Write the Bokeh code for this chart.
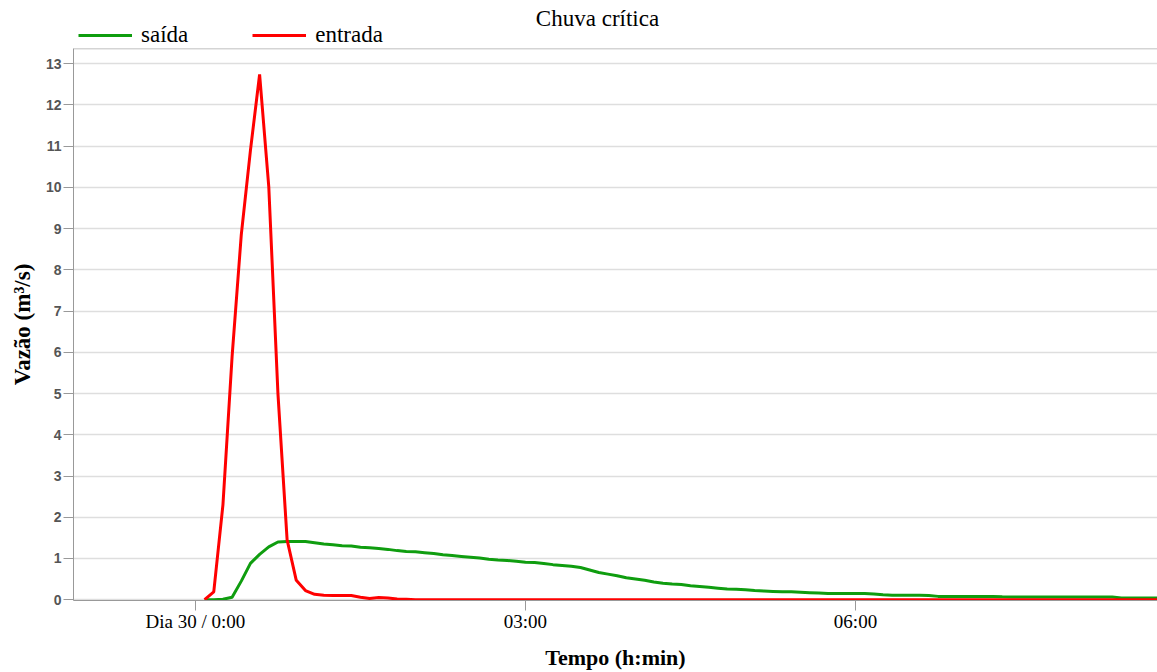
from bokeh.plotting import figure
from bokeh.layouts import column
from bokeh.models import FixedTicker, Span, Legend, LegendItem, Range1d, ColumnDataSource, Label
from bokeh.embed import file_html
from bokeh.resources import INLINE

# ---- data (time in minutes after Dia 30 / 0:00, 5-min steps) ----
minutes = list(range(5, 530, 5))

entrada = [0.0, 0.19, 2.3, 5.9, 8.85, 10.9, 12.74, 10.02, 5.0, 1.45,
           0.47, 0.22, 0.13, 0.11, 0.10, 0.10, 0.10, 0.06, 0.03, 0.05,
           0.04, 0.015, 0.01] + [0.0] * 82

saida = [0.0, 0.0, 0.01, 0.06, 0.45, 0.88, 1.10, 1.28, 1.40, 1.41,
         1.41, 1.41, 1.38, 1.35, 1.33, 1.31, 1.30, 1.27, 1.26, 1.24,
         1.22, 1.19, 1.17, 1.16, 1.14, 1.12, 1.09, 1.07, 1.05, 1.03,
         1.01, 0.98, 0.96, 0.95, 0.93, 0.91, 0.90, 0.88, 0.85, 0.83,
         0.81, 0.78, 0.72, 0.66, 0.62, 0.58, 0.53, 0.50, 0.47, 0.43,
         0.40, 0.38, 0.37, 0.34, 0.32, 0.30, 0.28, 0.26, 0.25, 0.24,
         0.22, 0.21, 0.20, 0.19, 0.19, 0.18, 0.17, 0.16, 0.15, 0.15,
         0.15, 0.15, 0.15, 0.14, 0.12, 0.11, 0.11, 0.11, 0.11, 0.10,
         0.08, 0.08, 0.08, 0.08, 0.08, 0.08, 0.08, 0.07, 0.065, 0.065,
         0.065, 0.065, 0.065, 0.065, 0.065, 0.065, 0.065, 0.065, 0.065, 0.065,
         0.04, 0.04, 0.04, 0.04, 0.04]

x_tick_values = [0, 180, 360]
x_tick_labels = ["Dia 30 / 0:00", "03:00", "06:00"]
y_tick_values = list(range(0, 14))

series_keys = ["saida", "entrada"]
series_names = ["saída", "entrada"]
series_colors = ["#0f9d0f", "#ff0000"]

title_text = "Chuva crítica"
x_title = "Tempo (h:min)"
y_title = "Vazão (m³/s)"

source = ColumnDataSource(dict(t=minutes, entrada=entrada, saida=saida))

X0, X1 = -66.5, 524.7
Y0, Y1 = -0.02, 13.37

W = 1157
HEAD_H = 47
LEFT = 73

# ---------------- header: title + legend ----------------
head = figure(width=W, height=HEAD_H, output_backend="svg", toolbar_location=None,
              x_range=Range1d(0, W), y_range=Range1d(0, HEAD_H),
              x_axis_location=None, y_axis_location=None,
              min_border_left=0, min_border_right=0, min_border_top=0,
              min_border_bottom=0, title=None)
head.outline_line_color = None
head.xgrid.visible = False
head.ygrid.visible = False
head.background_fill_color = "white"
head.border_fill_color = "white"

# hidden proxy renderers: only their style is used for the legend glyphs
proxies = [head.line("t", k, source=source, line_color=c, line_width=3, visible=False)
           for k, c in zip(series_keys, series_colors)]
legend = Legend(items=[LegendItem(label=n, renderers=[pr]) for n, pr in zip(series_names, proxies)],
                orientation="horizontal", location=(5, -1),
                glyph_width=54, glyph_height=20, label_standoff=9, spacing=64,
                padding=0, margin=0, border_line_color=None,
                background_fill_alpha=0, inactive_fill_alpha=0,
                label_text_font="Liberation Serif", label_text_font_size="23px",
                label_text_color="black")
head.add_layout(legend, "center")
head.add_layout(Label(x=597 - LEFT, y=HEAD_H - 18, x_units="screen", y_units="screen",
                      text=title_text, text_align="center", text_baseline="middle",
                      text_font="Liberation Serif", text_font_size="23px",
                      text_color="black"))

# ---------------- main chart ----------------
p = figure(width=W, height=672 - HEAD_H, output_backend="svg", toolbar_location=None,
           x_range=Range1d(X0, X1), y_range=Range1d(Y0, Y1), title=None,
           min_border_left=LEFT, min_border_right=0, min_border_top=1,
           min_border_bottom=72)
p.outline_line_color = None
p.background_fill_color = "white"
p.border_fill_color = "white"

p.xgrid.visible = False
p.ygrid.ticker = FixedTicker(ticks=y_tick_values)
p.ygrid.grid_line_color = "#dedede"
p.ygrid.grid_line_width = 1.3

xa = p.xaxis[0]
xa.ticker = FixedTicker(ticks=x_tick_values)
xa.major_label_overrides = {v: l for v, l in zip(x_tick_values, x_tick_labels)}
xa.major_tick_out = 10
xa.major_tick_in = 0
xa.minor_tick_line_color = None
xa.axis_line_color = "#999999"
xa.major_tick_line_color = "#999999"
xa.major_label_text_font = "Liberation Serif"
xa.major_label_text_font_size = "19px"
xa.major_label_text_color = "black"
xa.major_label_standoff = 0
xa.axis_label = x_title
xa.axis_label_text_font = "Liberation Serif"
xa.axis_label_text_font_style = "bold"
xa.axis_label_text_font_size = "22px"
xa.axis_label_text_color = "black"
xa.axis_label_standoff = 10

ya = p.yaxis[0]
ya.ticker = FixedTicker(ticks=y_tick_values)
ya.major_tick_out = 10
ya.major_tick_in = 0
ya.minor_tick_line_color = None
ya.axis_line_color = "#999999"
ya.major_tick_line_color = "#999999"
ya.major_label_text_font = "Liberation Sans"
ya.major_label_text_font_size = "14px"
ya.major_label_text_font_style = "bold"
ya.major_label_text_color = "#555555"
ya.major_label_standoff = 2
ya.axis_label = y_title
ya.axis_label_text_font = "Liberation Serif"
ya.axis_label_text_font_style = "bold"
ya.axis_label_text_font_size = "23px"
ya.axis_label_text_color = "black"
ya.axis_label_standoff = 8

p.add_layout(Span(location=Y1, dimension="width", line_color="#aaaaaa", line_width=1.5))

for k, c in zip(series_keys, series_colors):
    p.line("t", k, source=source, line_color=c, line_width=3)

layout = column(head, p, spacing=0)
open("out.html", "w").write(file_html(layout, INLINE))
